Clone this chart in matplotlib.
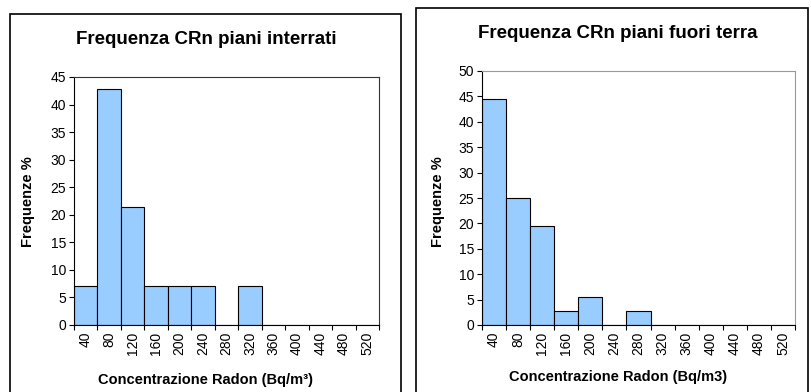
import numpy as np
import matplotlib
matplotlib.use('Agg')
import matplotlib.pyplot as plt
from matplotlib.patches import Rectangle

matplotlib.rc('font', family='Liberation Sans', size=10)

categories = ['40', '80', '120', '160', '200', '240', '280', '320', '360', '400', '440', '480', '520']
interrati = [7.14, 42.86, 21.43, 7.14, 7.14, 7.14, 0, 7.14, 0, 0, 0, 0, 0]
fuori_terra = [44.44, 25.0, 19.44, 2.78, 5.56, 0, 2.78, 0, 0, 0, 0, 0, 0]

W, H = 811, 392
fig = plt.figure(figsize=(W / 100, H / 100), dpi=100)

def px(x0, y0, x1, y1):
    # pixel box (top-left origin) -> figure fraction [l, b, w, h]
    return [x0 / W, 1 - y1 / H, (x1 - x0) / W, (y1 - y0) / H]

# outer frames of the two charts
for x0, y0, x1, y1 in [(10, 14, 401, 395), (416, 8, 808, 395)]:
    fig.patches.append(Rectangle((x0 / W, 1 - y1 / H), (x1 - x0) / W, (y1 - y0) / H,
                                 transform=fig.transFigure, fill=False,
                                 edgecolor='black', linewidth=1.2))

def draw_hist(rect, values, ymax, title, xlabel, frame_col, title_y, xl_y, yl_x, cx):
    ax = fig.add_axes(px(*rect))
    x = np.arange(len(values))
    ax.bar(x, values, width=1.0, color='#99CCFF', edgecolor='black', linewidth=0.8)
    ax.set_xlim(-0.5, len(values) - 0.5)
    ax.set_ylim(0, ymax)
    ax.set_yticks(np.arange(0, ymax + 1, 5))
    ax.set_xticks(x)
    ax.set_xticklabels(categories, rotation=90)
    ax.tick_params(axis='x', length=0, pad=5)
    ax.set_xticks(np.arange(-0.5, len(values)), minor=True)
    ax.tick_params(axis='x', which='minor', length=3.5, direction='out', width=0.8)
    ax.tick_params(axis='y', length=3.5, direction='out', width=0.8, pad=2)
    for s in ['top', 'right']:
        ax.spines[s].set_color(frame_col)
    for s in ['left', 'bottom']:
        ax.spines[s].set_color('black')
    fig.text(cx / W, 1 - title_y / H, title, ha='center', va='center',
             fontsize=13.5, fontweight='bold')
    fig.text(cx / W, 1 - xl_y / H, xlabel, ha='center', va='center',
             fontsize=10.5, fontweight='bold')
    fig.text(yl_x / W, 1 - 202 / H, 'Frequenze %', ha='center',
             va='center', rotation=90, fontsize=10.5, fontweight='bold')

draw_hist((74, 77, 379, 325), interrati, 45, 'Frequenza CRn piani interrati',
          'Concentrazione Radon (Bq/m³)', '#333333', 40, 380, 28, 206)
draw_hist((482, 71, 795, 325), fuori_terra, 50, 'Frequenza CRn piani fuori terra',
          'Concentrazione Radon (Bq/m3)', '#999999', 33, 377, 438, 618)

fig.savefig('out.png', dpi=100)
